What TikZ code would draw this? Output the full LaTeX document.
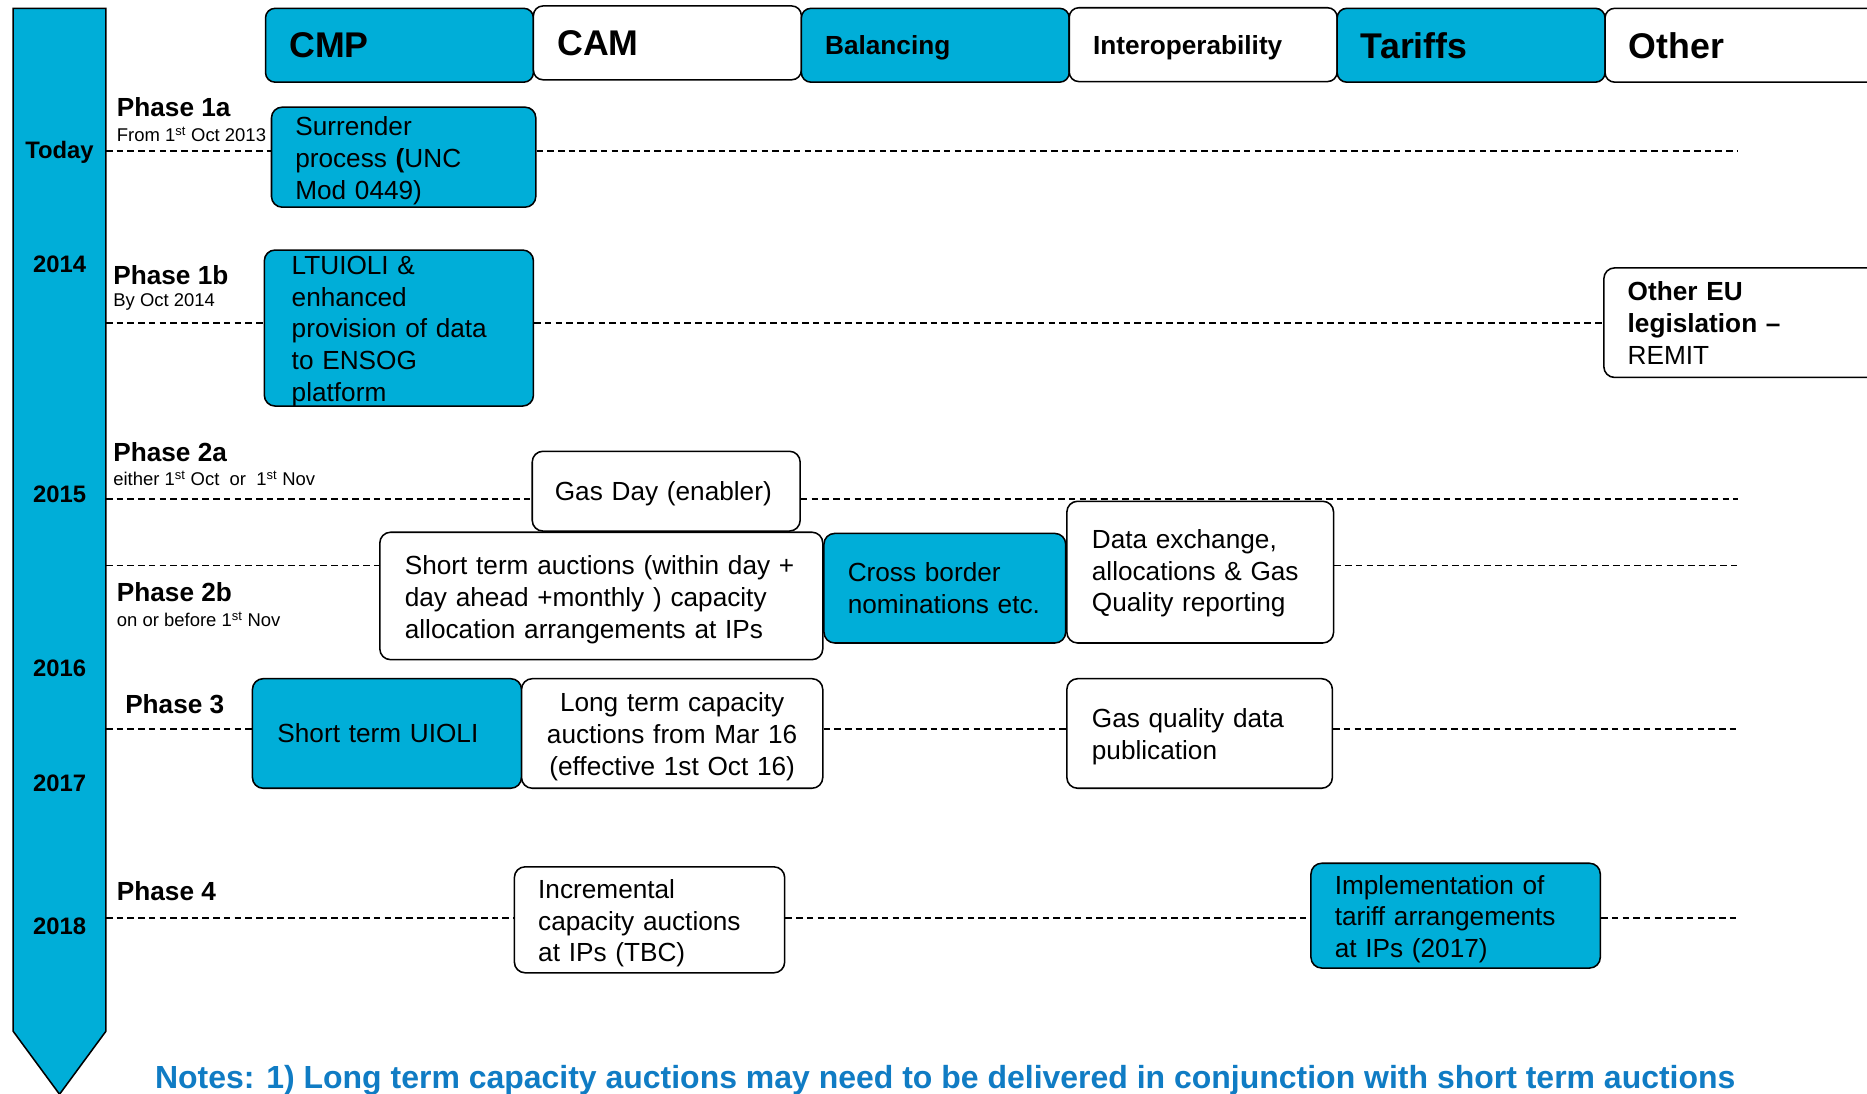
\documentclass[tikz,border=0pt]{standalone}
\usepackage{fontspec}
\setmainfont{Liberation Sans}
\usetikzlibrary{backgrounds}
\definecolor{cyanblue}{RGB}{0,174,216}
\definecolor{noteblue}{RGB}{16,124,196}
\begin{document}
\begin{tikzpicture}[x=1pt,y=-1pt,
  box/.style={draw=black, line width=1.3pt, rounded corners=9pt, inner xsep=20pt, inner ysep=0pt, align=left, font=\fontsize{22}{26.8}\selectfont},
  bluebox/.style={box, fill=cyanblue},
  whitebox/.style={box, fill=white},
  hdr/.style={draw=black, line width=1.3pt, rounded corners=8pt, inner xsep=20pt, inner ysep=0pt, align=left, minimum height=62pt},
  hdrbig/.style={hdr, text depth=-2pt, font=\fontsize{30}{34}\selectfont\bfseries},
  hdrsmall/.style={hdr, text depth=-2.4pt, font=\fontsize{22}{26}\selectfont\bfseries},
  phase/.style={anchor=west, inner sep=0pt, font=\fontsize{22}{26}\selectfont\bfseries},
  sub/.style={anchor=west, inner sep=0pt, font=\fontsize{15.5}{18}\selectfont},
  year/.style={inner sep=0pt, text depth=0pt, font=\fontsize{20}{24}\selectfont\bfseries},
  dl/.style={draw=black, line width=1.45pt, dash pattern=on 5.5pt off 3.5pt}
]
\useasboundingbox (0,0) rectangle (1568,918);

% timeline bar
\draw[line width=1.3pt, fill=cyanblue] (11,7) -- (89,7) -- (89,866) -- (50,919) -- (11,866) -- cycle;
\coordinate (barR) at (89,7);
\node[year] (yToday) at (50,126) {Today};
\node[year] (y2014) at (50,222) {2014};
\node[year] (y2015) at (50,415) {2015};
\node[year] (y2016) at (50,561) {2016};
\node[year] (y2017) at (50,658) {2017};
\node[year] (y2018) at (50,778) {2018};

% headers
\node[hdrbig, fill=cyanblue, text width=185pt] (hCMP) at (335.5,38) {CMP};
\node[hdrbig, fill=white, text width=185pt] (hCAM) at (560.5,36) {CAM};
\node[hdrsmall, fill=cyanblue, text width=185pt] (hBal) at (785.5,38) {Balancing};
\node[hdrsmall, fill=white, text width=185pt] (hInt) at (1010.5,37.5) {Interoperability};
\node[hdrbig, fill=cyanblue, text width=185pt] (hTar) at (1235.5,38) {Tariffs};
\node[hdrbig, fill=white, text width=190pt] (hOth) at (1463,38) {Other};

% phase labels
\node[phase] (p1a) at (98,90) {Phase 1a};
\node[sub] (s1a) at (98,113) {From 1\textsuperscript{st} Oct 2013};
\node[phase] (p1b) at (95,231) {Phase 1b};
\node[sub] (s1b) at (95,254) {By Oct 2014};
\node[phase] (p2a) at (95,380) {Phase 2a};
\node[sub] (s2a) at (95,402) {either 1\textsuperscript{st} Oct\ \ or\ \ 1\textsuperscript{st} Nov};
\node[phase] (p2b) at (98,497) {Phase 2b};
\node[sub] (s2b) at (98,520) {on or before 1\textsuperscript{st} Nov};
\node[phase] (p3) at (105,591) {Phase 3};
\node[phase] (p4) at (98,748) {Phase 4};

% boxes
\node[bluebox, text depth=52.3pt, minimum height=84pt, text width=182pt] (surr) at (339,132) {Surrender\\process \textbf{(}UNC\\Mod 0449)};
\node[bluebox, text depth=105.9pt, inner xsep=23pt, minimum height=131pt, text width=180pt] (ltu) at (335,275.5) {LTUIOLI \&\\enhanced\\provision of data\\to ENSOG\\platform};
\node[whitebox, minimum height=92pt, text width=193pt] (oeu) at (1463.5,271) {\textbf{Other EU}\\\textbf{legislation –}\\REMIT};
\node[whitebox, text depth=-4pt, inner xsep=19pt, minimum height=67pt, text width=187pt] (gasday) at (559.5,412.5) {Gas Day (enabler)};
\node[whitebox, text depth=52.3pt, inner xsep=21pt, minimum height=107pt, text width=330pt] (sta) at (505,500.5) {Short term auctions (within day +\\day ahead +monthly ) capacity\\allocation arrangements at IPs};
\node[bluebox, minimum height=92pt, text width=163pt] (cbn) at (793.5,494) {Cross border\\nominations etc.};
\node[whitebox, text depth=56.3pt, inner xsep=21pt, minimum height=119pt, text width=182pt] (dex) at (1008,480.5) {Data exchange,\\allocations \& Gas\\Quality reporting};
\node[bluebox, inner xsep=21pt, minimum height=92pt, text width=184pt] (stu) at (325,616) {Short term UIOLI};
\node[whitebox, text depth=52.3pt, align=center, inner xsep=10pt, minimum height=92pt, text width=233pt] (ltc) at (564.5,616) {Long term capacity\\auctions from Mar 16\\(effective 1st Oct 16)};
\node[whitebox, text depth=25.5pt, inner xsep=21pt, minimum height=92pt, text width=181pt] (gqd) at (1007.5,616) {Gas quality data\\publication};
\node[whitebox, text depth=52.3pt, minimum height=89pt, text width=187pt] (inc) at (545.5,772.5) {Incremental\\capacity auctions\\at IPs (TBC)};
\node[bluebox, text depth=52.3pt, minimum height=88pt, text width=203pt] (impl) at (1222.5,769) {Implementation of\\tariff arrangements\\at IPs (2017)};

% notes
\node[anchor=west, inner sep=0pt, font=\fontsize{26.85}{32}\selectfont\bfseries, text=noteblue] (notes) at (130,907) {Notes: 1) Long term capacity auctions may need to be delivered in conjunction with short term auctions};

% line ends
\coordinate (e1) at (1460,127);
\coordinate (e2) at (1460,271);
\coordinate (e3) at (1460,419);
\coordinate (e4) at (1460,475);
\coordinate (e5) at (1460,612);
\coordinate (e6) at (1460,771);

\begin{pgfonlayer}{background}
\draw[dl] (barR |- e1) -- (surr.west |- e1);
\draw[dl] (surr.east |- e1) -- (e1);
\draw[dl] (barR |- e2) -- (ltu.west |- e2);
\draw[dl] (ltu.east |- e2) -- (oeu.west |- e2);
\draw[dl] (barR |- e3) -- (gasday.west |- e3);
\draw[dl] (gasday.east |- e3) -- (e3);
\draw[dl] (barR |- e4) -- (sta.west |- e4);
\draw[dl] (dex.east |- e4) -- (e4);
\draw[dl] (barR |- e5) -- (stu.west |- e5);
\draw[dl] (ltc.east |- e5) -- (gqd.west |- e5);
\draw[dl] (gqd.east |- e5) -- (e5);
\draw[dl] (barR |- e6) -- (inc.west |- e6);
\draw[dl] (inc.east |- e6) -- (impl.west |- e6);
\draw[dl] (impl.east |- e6) -- (e6);
\end{pgfonlayer}
\end{tikzpicture}
\end{document}
